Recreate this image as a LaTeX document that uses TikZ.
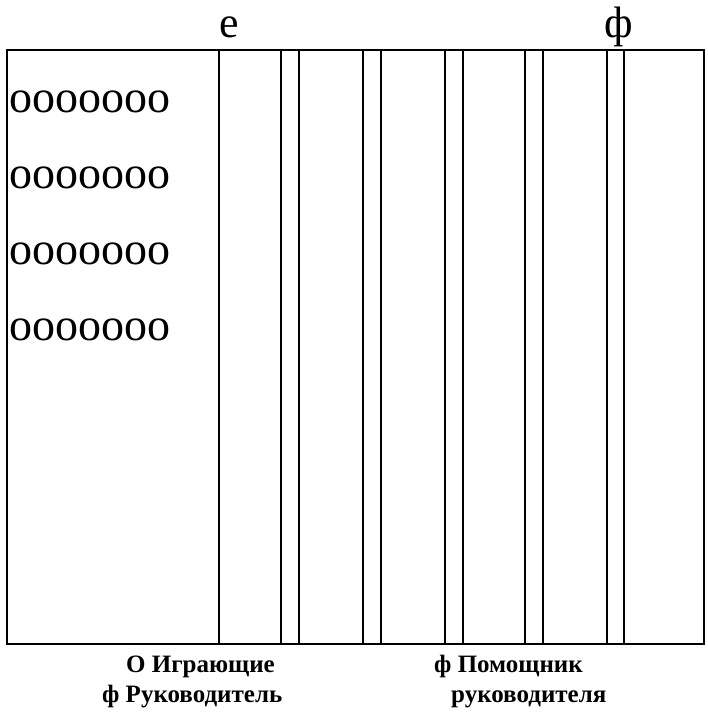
\documentclass[tikz,border=0pt]{standalone}
\usepackage{fontspec}
\setmainfont{Liberation Serif}
\begin{document}
\begin{tikzpicture}[x=1pt,y=-1pt,
  frame/.style={line width=2.6pt},
  divider/.style={line width=2pt},
  rowtext/.style={anchor=base west,inner sep=0pt,font=\fontsize{46}{46}\selectfont},
  toplabel/.style={anchor=base,inner sep=0pt,font=\fontsize{44}{44}\selectfont},
  botlabel/.style={anchor=base west,inner sep=0pt,font=\fontsize{25}{25}\selectfont\bfseries}]
\useasboundingbox (0,0) rectangle (708,716);
\fill[white] (0,0) rectangle (708,716);
\coordinate (tl) at (7,50);
\coordinate (br) at (704,644);
\foreach \x [count=\i] in {219,281,299,363,381,445,463,525,543,607,624}{
  \coordinate (t\i) at (\x,50);
  \coordinate (b\i) at (\x,644);
  \draw[divider] (t\i) -- (b\i);
}
\draw[frame] (tl) rectangle (br);
\node[toplabel] (le) at (229,37) {е};
\node[toplabel] (lf) at (619,37) {ф};
\node[rowtext] (r1) at (9,112) {ооооооо};
\node[rowtext] (r2) at (9,188) {ооооооо};
\node[rowtext] (r3) at (9,264) {ооооооо};
\node[rowtext] (r4) at (9,340) {ооооооо};
\node[botlabel] (b1) at (126,672) {О Играющие};
\node[botlabel] (b2) at (102,702) {ф Руководитель};
\node[botlabel] (b3) at (434,672) {ф Помощник};
\node[botlabel] (b4) at (451,702) {руководителя};
\end{tikzpicture}
\end{document}
